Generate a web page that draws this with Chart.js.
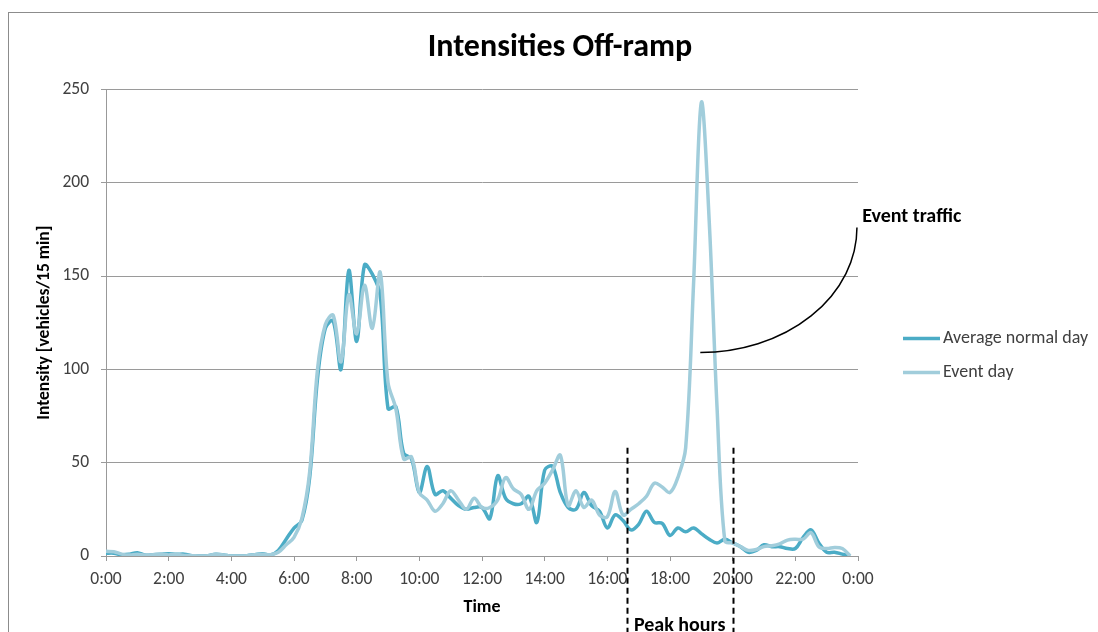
<!DOCTYPE html>
<html>
<head>
<meta charset="utf-8">
<script src="https://cdn.jsdelivr.net/npm/chart.js@4/dist/chart.umd.min.js"></script>
<style>
  html, body { margin: 0; padding: 0; background: #fff; }
  #wrap { position: relative; width: 1098px; height: 632px; overflow: hidden; }
  #frame { position: absolute; left: 8px; top: 12px; width: 1200px; height: 700px; border-left: 1px solid #8c8c8c; border-top: 1px solid #8c8c8c; }
  #canvas { position: absolute; left: 0; top: 0; }
</style>
</head>
<body>
<div id="wrap">
  <div id="frame"></div>
  <canvas id="canvas" width="1098" height="632"></canvas>
</div>
<script>
// 15 minute counts, 0:00 .. 23:45
const normalDay = [
  1.5, 1.5, 0.7, 1, 1.8, 0.5, 0.7, 0.9, 1.2, 0.9, 1, 0.2,
  0, 0.2, 0.9, 0.6, 0, 0, 0.2, 0.7, 1.2, 0.5, 3, 9,
  15, 19, 42, 95, 122, 126, 100, 153, 115, 156, 151, 140,
  79, 80, 55, 52, 34, 48, 33, 35, 31, 27, 25, 26,
  26, 20, 43, 31, 28, 28, 32, 18, 46, 48, 34, 26,
  25, 34, 27, 24, 15, 22, 19, 14, 17, 24, 18, 17.5,
  11, 15, 13, 15, 12, 9, 7, 9, 7, 5, 2, 3,
  6, 5, 5, 4, 4, 10, 14, 7, 2, 2, 1, 0
];
const eventDay = [
  2.5, 2.3, 1, 0.5, 1, 0.5, 0.7, 0.9, 0.6, 0.9, 0.3, 0.2,
  0, 0.2, 0.9, 0.6, 0, 0, 0.2, 0.7, 0.9, 0.7, 2, 6,
  10, 20, 45, 100, 124, 129, 104, 140, 119, 145, 122, 152,
  93, 79, 52, 53, 34, 30, 24, 28, 35, 30, 25, 31,
  26, 26, 30, 42, 36, 33, 25, 35, 39, 46, 54, 27,
  35, 26, 30, 22, 21, 34.5, 22, 25, 28, 32, 39, 37,
  34, 42, 58, 145, 243, 180, 80, 8, 7, 5, 3, 3.5,
  5, 5.5, 6.5, 8.5, 9, 9, 12.5, 5, 4, 4.6, 4, 0
];
const seriesNames = ['Average normal day', 'Event day'];
const seriesColors = ['#4BACC6', '#A1CDDB'];
const yTicks = [0, 50, 100, 150, 200, 250];
const xTickStep = 120; // minutes
const peakHours = [997, 1200]; // minutes
const eventArc = { from: [1138, 109], to: [1438, 176] };

const FONT = 'Carlito, Calibri, Lato, sans-serif';
const minutes = normalDay.map((_, i) => i * 15);

const annotations = {
  id: 'annotations',
  afterDatasetsDraw(chart) {
    const c = chart.ctx;
    const xs = chart.scales.x, ys = chart.scales.y;
    c.save();
    // peak hours
    c.strokeStyle = '#000';
    c.lineWidth = 2;
    c.setLineDash([6, 4]);
    peakHours.forEach(m => {
      const px = Math.round(xs.getPixelForValue(m)) + 0.5;
      c.beginPath();
      c.moveTo(px, ys.getPixelForValue(58));
      c.lineTo(px, chart.height);
      c.stroke();
    });
    c.setLineDash([]);
    c.fillStyle = '#000';
    c.font = 'bold 20px ' + FONT;
    c.textAlign = 'center';
    c.textBaseline = 'alphabetic';
    const mid = (xs.getPixelForValue(peakHours[0]) + xs.getPixelForValue(peakHours[1])) / 2;
    c.fillText('Peak hours', mid, chart.height - 1);

    // event traffic arc
    const sx = xs.getPixelForValue(eventArc.from[0]), sy = ys.getPixelForValue(eventArc.from[1]);
    const ex = xs.getPixelForValue(eventArc.to[0]), ey = ys.getPixelForValue(eventArc.to[1]);
    c.lineWidth = 1.5;
    c.beginPath();
    c.ellipse(sx, ey, ex - sx, sy - ey, 0, 0, Math.PI / 2);
    c.stroke();
    c.textAlign = 'left';
    c.fillText('Event traffic', xs.getPixelForValue(1448), ys.getPixelForValue(179));

    // legend
    const lx = chart.chartArea.right + 45;
    let ly = chart.chartArea.top + 249;
    c.font = '18px ' + FONT;
    c.fillStyle = '#404040';
    c.textBaseline = 'middle';
    seriesNames.forEach((name, i) => {
      c.strokeStyle = seriesColors[i];
      c.lineWidth = 3.5;
      c.beginPath();
      c.moveTo(lx, ly);
      c.lineTo(lx + 37, ly);
      c.stroke();
      c.fillText(name, lx + 40, ly);
      ly += 34;
    });
    c.restore();
  }
};

const ctx = document.getElementById('canvas');

new Chart(ctx, {
  type: 'line',
  data: {
    datasets: [
      {
        label: seriesNames[0],
        data: normalDay.map((v, i) => ({ x: minutes[i], y: v })),
        borderColor: seriesColors[0],
        borderWidth: 3.5,
        pointRadius: 0,
        tension: 0.35,
        order: 1
      },
      {
        label: seriesNames[1],
        data: eventDay.map((v, i) => ({ x: minutes[i], y: v })),
        borderColor: seriesColors[1],
        borderWidth: 3.5,
        pointRadius: 0,
        tension: 0.35,
        order: 0
      }
    ]
  },
  options: {
    responsive: false,
    animation: false,
    layout: { padding: { left: 22, right: 0, top: 0, bottom: 0 } },
    plugins: {
      legend: { display: false },
      tooltip: { enabled: false },
      title: {
        display: true,
        text: 'Intensities Off-ramp',
        color: '#000',
        font: { family: FONT, size: 32, weight: 'bold' },
        padding: { top: 29, bottom: 22 }
      }
    },
    scales: {
      x: {
        type: 'linear',
        min: 0,
        max: 1440,
        afterFit: s => { s.height = 76; },
        afterBuildTicks: s => {
          s.ticks = [];
          for (let m = 0; m <= 1440; m += xTickStep) s.ticks.push({ value: m });
        },
        ticks: {
          autoSkip: false,
          maxRotation: 0,
          color: '#404040',
          font: { family: FONT, size: 17.5 },
          padding: 8,
          callback: v => ((v / 60) % 24) + ':00'
        },
        grid: { drawOnChartArea: false, color: '#999', tickLength: 5 },
        border: { color: '#999' },
        title: {
          display: true,
          text: 'Time',
          color: '#000',
          font: { family: FONT, size: 18, weight: 'bold' },
          padding: { top: 0, bottom: 14 }
        }
      },
      y: {
        min: 0,
        max: 250,
        afterFit: s => { s.width = 84; },
        afterBuildTicks: s => { s.ticks = yTicks.map(v => ({ value: v })); },
        ticks: { color: '#404040', font: { family: FONT, size: 17.5 }, padding: 12 },
        grid: { color: '#9a9a9a', tickLength: 5 },
        border: { color: '#999' },
        title: {
          display: true,
          text: 'Intensity [vehicles/15 min]',
          color: '#000',
          font: { family: FONT, size: 17.5, weight: 'bold' },
          padding: { top: 12, bottom: 0 }
        }
      },
      // empty space on the right that holds the legend
      legendSpace: {
        type: 'linear',
        position: 'right',
        afterFit: s => { s.width = 240; },
        grid: { display: false },
        border: { display: false },
        ticks: { display: false }
      }
    }
  },
  plugins: [annotations]
});
</script>
</body>
</html>
